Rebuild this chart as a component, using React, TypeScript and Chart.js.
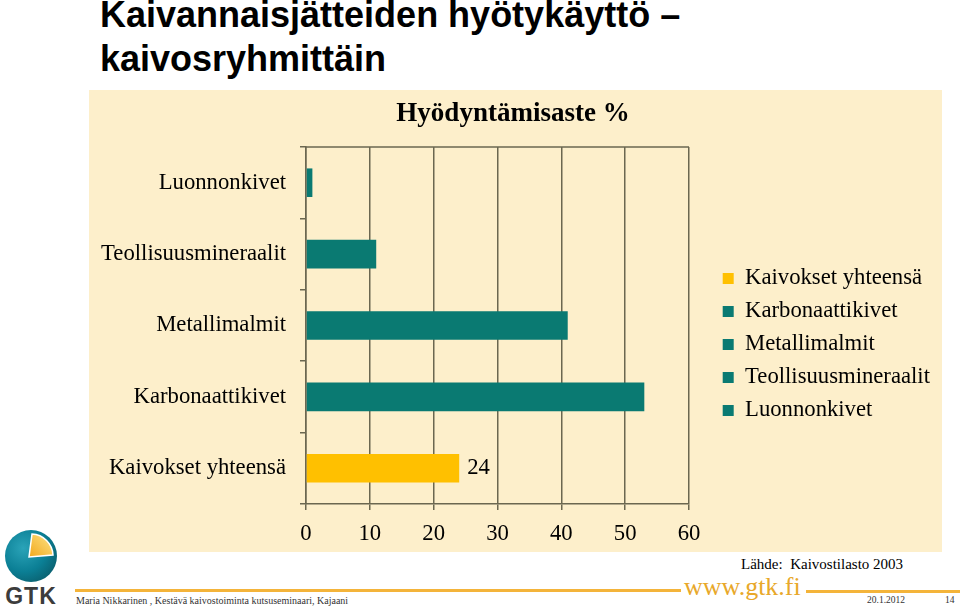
import React, { useEffect, useRef } from "react";
import { Chart, registerables } from "chart.js";

Chart.register(...registerables);

// ---- data ----
const categories = [
  "Luonnonkivet",
  "Teollisuusmineraalit",
  "Metallimalmit",
  "Karbonaattikivet",
  "Kaivokset yhteensä",
];
const values = [1, 11, 41, 53, 24];
const barColors = ["#0a7a72", "#0a7a72", "#0a7a72", "#0a7a72", "#FFC000"];
const xTicks = [0, 10, 20, 30, 40, 50, 60];
const labeledCategories = ["Kaivokset yhteensä"];
const chartTitle = "Hyödyntämisaste %";
const slideTitle = ["Kaivannaisjätteiden hyötykäyttö –", "kaivosryhmittäin"];
const sourceText = "Lähde:  Kaivostilasto 2003";
const footerText = "Maria Nikkarinen , Kestävä kaivostoiminta kutsuseminaari, Kajaani";
const footerDate = "20.1.2012";
const footerPage = "14";
const footerUrl = "www.gtk.fi";

const SERIF = "'Liberation Serif', 'Times New Roman', serif";
const SANS = "'Liberation Sans', Arial, sans-serif";
const GRID = "#6b6750";
const FS = 22.7;

const framePlugin = {
  id: "frameAndLabels",
  afterInit(chart: any) {
    const lg = chart.legend;
    if (lg && !lg.__patched) {
      const orig = lg.fit.bind(lg);
      lg.fit = () => {
        orig();
        lg.width = 253;
      };
      lg.__patched = true;
    }
  },
  afterLayout(chart: any) {
    const lg = chart.legend;
    if (lg) {
      lg.left += 23.4;
      lg.right += 23.4;
      lg.top += 23.5;
      lg.bottom += 23.5;
    }
    const tb = chart.titleBlock;
    if (tb) {
      tb.left -= 7.5;
      tb.right -= 7.5;
    }
  },
  beforeDatasetsDraw(chart: any) {
    const { ctx, chartArea } = chart;
    ctx.save();
    ctx.strokeStyle = GRID;
    ctx.lineWidth = 1.5;
    ctx.beginPath();
    ctx.moveTo(chartArea.left, chartArea.top);
    ctx.lineTo(chartArea.right, chartArea.top);
    ctx.stroke();
    ctx.restore();
  },
  afterDatasetsDraw(chart: any) {
    const { ctx } = chart;
    ctx.save();
    ctx.font = `${FS}px ${SERIF}`;
    ctx.fillStyle = "#000";
    ctx.textAlign = "left";
    ctx.textBaseline = "middle";
    categories.forEach((c, i) => {
      if (!labeledCategories.includes(c)) return;
      const el = chart.getDatasetMeta(i).data[i];
      if (el) ctx.fillText(String(values[i]), el.x + 8, el.y);
    });
    ctx.restore();
  },
};

function ChartCanvas() {
  const ref = useRef<HTMLCanvasElement | null>(null);
  useEffect(() => {
    if (!ref.current) return;
    const datasets = categories.map((c, i) => ({
      label: c,
      data: categories.map((_, j) => (j === i ? values[i] : null)),
      backgroundColor: barColors[i],
      borderWidth: 0,
      barPercentage: 0.4,
      categoryPercentage: 1,
    }));
    const chart = new Chart(ref.current, {
      type: "bar",
      data: { labels: categories, datasets },
      options: {
        responsive: false,
        animation: false,
        indexAxis: "y",
        layout: { padding: { left: 10, right: 0, top: 0, bottom: 0 } },
        plugins: {
          title: {
            display: true,
            text: chartTitle,
            color: "#000",
            font: { family: SERIF, size: 27, weight: "bold" },
            padding: { top: 8, bottom: 16.6 },
          },
          legend: {
            display: true,
            position: "right",
            reverse: true,
            labels: {
              color: "#000",
              font: { family: SERIF, size: FS },
              boxWidth: 11,
              boxHeight: 11,
              padding: 10.3,
            },
          },
          tooltip: { enabled: false },
        },
        scales: {
          x: {
            type: "linear",
            stacked: true,
            min: xTicks[0],
            max: xTicks[xTicks.length - 1],
            afterBuildTicks: (s: any) => {
              s.ticks = xTicks.map((v) => ({ value: v }));
            },
            afterFit: (s: any) => {
              s.height = 48;
            },
            ticks: { color: "#000", padding: 10.7, font: { family: SERIF, size: FS } },
            grid: { color: GRID, lineWidth: 1.5, drawTicks: true, tickLength: 6 },
            border: { color: GRID, width: 1.5 },
          },
          y: {
            type: "category",
            stacked: true,
            afterFit: (s: any) => {
              s.width = 207;
            },
            ticks: { color: "#000", padding: 14, font: { family: SERIF, size: FS } },
            grid: {
              drawOnChartArea: false,
              drawTicks: true,
              tickLength: 6,
              color: GRID,
              lineWidth: 1.5,
              offset: true,
            },
            border: { color: GRID, width: 1.5 },
          },
        },
      } as any,
      plugins: [framePlugin],
    });
    return () => chart.destroy();
  }, []);
  return (
    <canvas
      ref={ref}
      width={853}
      height={462}
      style={{ position: "absolute", left: 89, top: 90, width: 853, height: 462, background: "#FDEFCB" }}
    />
  );
}

function Logo() {
  return (
    <svg width="64" height="84" style={{ position: "absolute", left: 0, top: 524 }} viewBox="0 0 64 84">
      <defs>
        <radialGradient id="gl" cx="0.35" cy="0.35" r="0.75">
          <stop offset="0" stopColor="#2aa3b8" />
          <stop offset="0.6" stopColor="#0b7f95" />
          <stop offset="1" stopColor="#0a5f6e" />
        </radialGradient>
        <linearGradient id="yl" x1="0" y1="1" x2="1" y2="0">
          <stop offset="0" stopColor="#f2a81c" />
          <stop offset="1" stopColor="#fde58a" />
        </linearGradient>
      </defs>
      <circle cx="31" cy="32" r="26" fill="url(#gl)" />
      <path d="M29 33 L32 10 A22 22 0 0 1 53 31 Z" fill="url(#yl)" stroke="#ffffff" strokeWidth="1.5" />
      <text x="31" y="80" textAnchor="middle" fontFamily={SANS} fontWeight="bold" fontSize="23" fill="#3c3c3c" letterSpacing="1">
        GTK
      </text>
    </svg>
  );
}

export default function App() {
  return (
    <div style={{ position: "fixed", left: 0, top: 0, width: 960, height: 608, overflow: "hidden", background: "#fff" }}>
      <div
        style={{
          position: "absolute",
          left: 100,
          top: -7,
          fontFamily: SANS,
          fontWeight: "bold",
          fontSize: 36,
          lineHeight: "44px",
          color: "#000",
          whiteSpace: "nowrap",
        }}
      >
        <div>{slideTitle[0]}</div>
        <div>{slideTitle[1]}</div>
      </div>
      <ChartCanvas />
      <div style={{ position: "absolute", left: 741, top: 556, fontFamily: SERIF, fontSize: 15, color: "#000", whiteSpace: "pre" }}>
        {sourceText}
      </div>
      <div style={{ position: "absolute", left: 75, top: 589, width: 606, height: 3, background: "#F4B43A" }} />
      <div style={{ position: "absolute", left: 806, top: 590, width: 154, height: 3, background: "#F4B43A" }} />
      <div style={{ position: "absolute", left: 684, top: 572, fontFamily: SERIF, fontSize: 26, color: "#E8A82A", whiteSpace: "nowrap" }}>
        {footerUrl}
      </div>
      <div style={{ position: "absolute", left: 76, top: 595, fontFamily: SERIF, fontSize: 10, color: "#333", whiteSpace: "nowrap" }}>
        {footerText}
      </div>
      <div style={{ position: "absolute", left: 867, top: 595, fontFamily: SERIF, fontSize: 9.5, color: "#333", whiteSpace: "nowrap" }}>
        {footerDate}
      </div>
      <div style={{ position: "absolute", left: 945, top: 595, fontFamily: SERIF, fontSize: 9.5, color: "#333", whiteSpace: "nowrap" }}>
        {footerPage}
      </div>
      <Logo />
    </div>
  );
}
